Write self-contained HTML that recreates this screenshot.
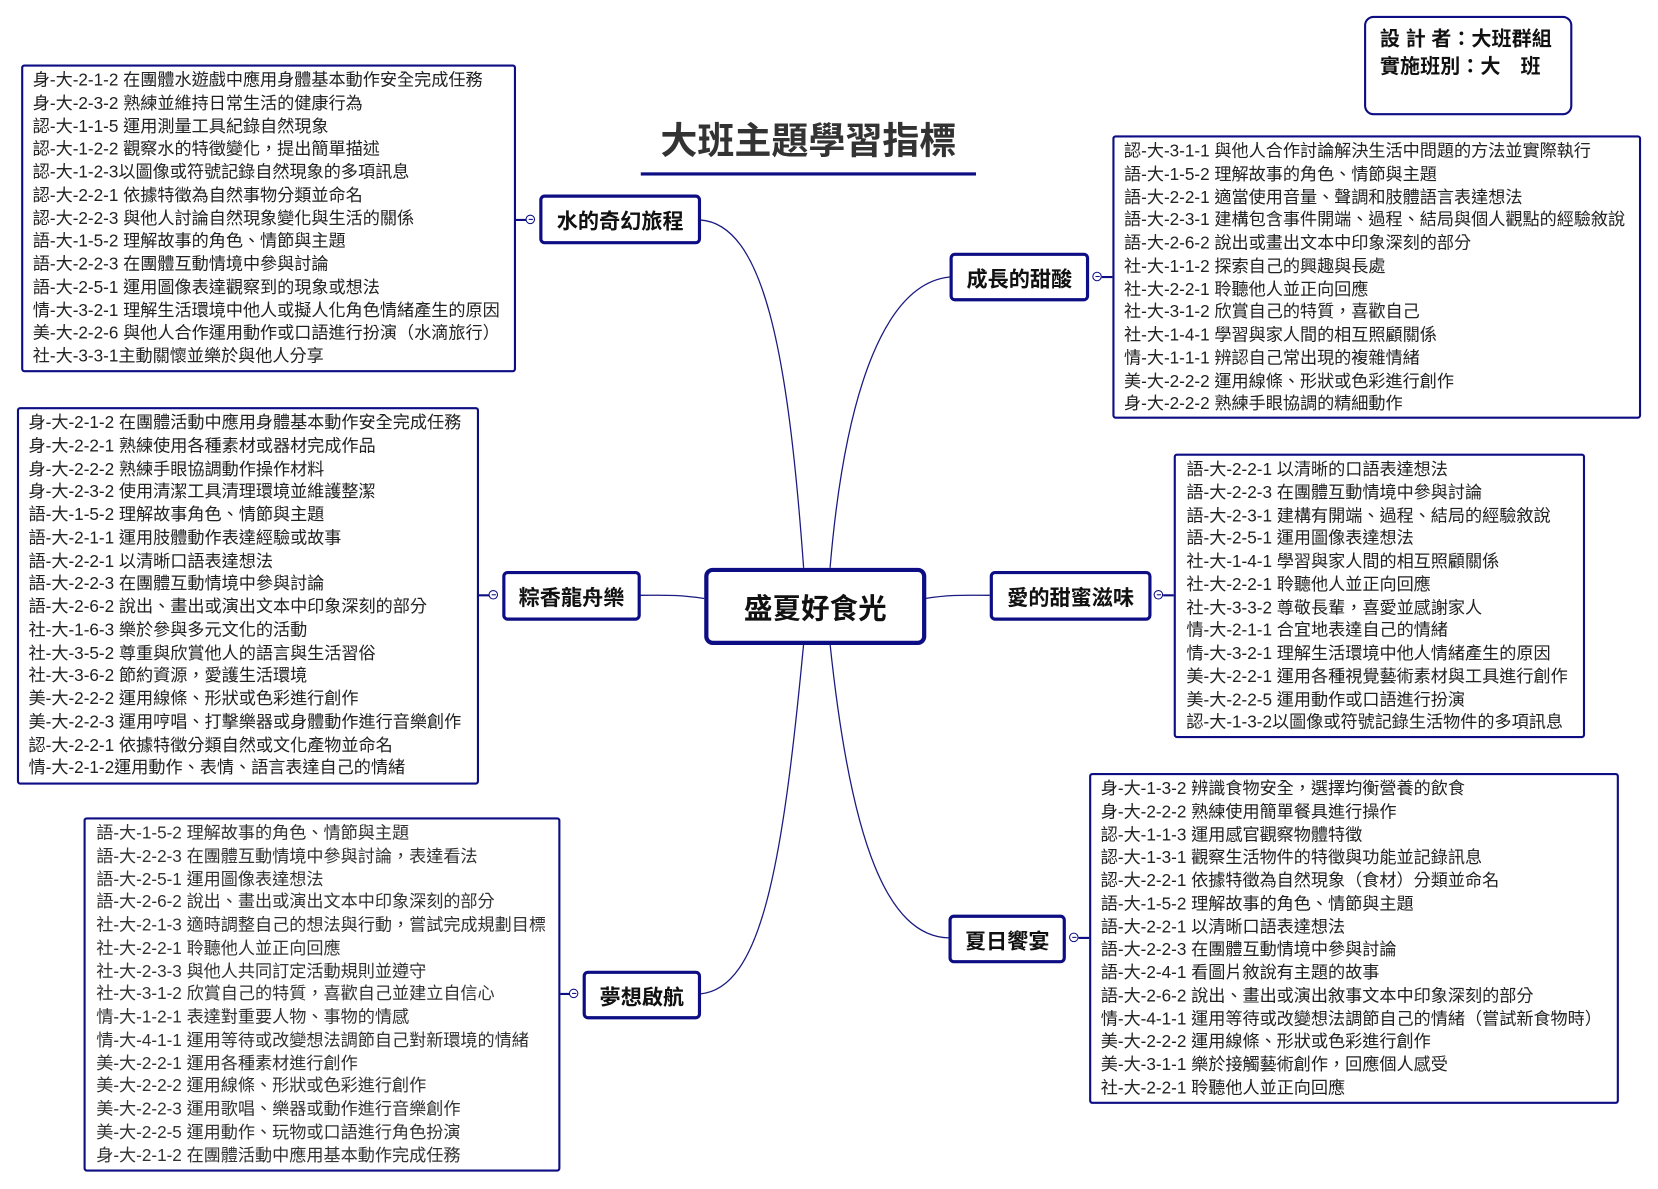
<!DOCTYPE html>
<html><head><meta charset="utf-8">
<style>
html,body{margin:0;padding:0;background:#fff;width:1658px;height:1188px;overflow:hidden}
#s{position:absolute;left:0;top:0;width:1568px;height:1124px;transform:scale(1.0574);transform-origin:0 0;font-family:"Liberation Sans","Noto Sans CJK TC",sans-serif}
.b{position:absolute;border:2.5px solid #0d0d84;border-radius:3px;box-sizing:border-box;background:#fff;color:#222;font-size:16.2px;line-height:21.75px;white-space:nowrap;padding-top:3px}
.b div{height:21.75px}
.n{position:absolute;border:3px solid #0d0d84;border-radius:5px;box-sizing:border-box;background:#fff;font-weight:bold;font-size:20px;display:flex;align-items:center;justify-content:center;color:#111}
.c{position:absolute;width:9px;height:9px;border:1.3px solid #0d0d84;border-radius:50%;background:#fff;box-sizing:border-box}
.c::after{content:"";position:absolute;left:1.5px;right:1.5px;top:3px;height:1px;background:#0d0d84}
.h{position:absolute;height:2px;background:#0d0d84}
</style></head><body><div id="s">
<svg width="1568" height="1124" style="position:absolute;left:0;top:0" fill="none" stroke="#1a1a80" stroke-width="1.2">
<path d="M760,537 C745,330 722,212 662,208"/>
<path d="M785,537 C800,360 840,268 898,262"/>
<path d="M666,566 C640,562 625,563 605,563"/>
<path d="M875,566 C900,562 915,563 936,563"/>
<path d="M760,609 C740,820 720,935 662,940"/>
<path d="M785,609 C805,800 840,885 897,887"/>
</svg>

<div style="position:absolute;left:586px;top:110px;width:357px;text-align:center;font-weight:bold;font-size:35px;color:#333;line-height:48px">大班主題學習指標</div>
<div class="h" style="left:606px;top:163px;width:317px;height:3px"></div>

<div class="n" style="left:1290px;top:15px;width:197px;height:94px;border-width:2.5px;border-radius:9px;display:block;font-size:19px;line-height:26px;padding:8px 0 0 13px;color:#111">設 計 者：大班群組<br>實施班別：大　班</div>

<div class="b" style="left:20px;top:61px;width:468px;height:291px;padding-left:9px">
<div>身-大-2-1-2 在團體水遊戲中應用身體基本動作安全完成任務</div>
<div>身-大-2-3-2 熟練並維持日常生活的健康行為</div>
<div>認-大-1-1-5 運用測量工具紀錄自然現象</div>
<div>認-大-1-2-2 觀察水的特徵變化，提出簡單描述</div>
<div>認-大-1-2-3以圖像或符號記錄自然現象的多項訊息</div>
<div>認-大-2-2-1 依據特徵為自然事物分類並命名</div>
<div>認-大-2-2-3 與他人討論自然現象變化與生活的關係</div>
<div>語-大-1-5-2 理解故事的角色、情節與主題</div>
<div>語-大-2-2-3 在團體互動情境中參與討論</div>
<div>語-大-2-5-1 運用圖像表達觀察到的現象或想法</div>
<div>情-大-3-2-1 理解生活環境中他人或擬人化角色情緒產生的原因</div>
<div>美-大-2-2-6 與他人合作運用動作或口語進行扮演（水滴旅行）</div>
<div>社-大-3-3-1主動關懷並樂於與他人分享</div>
</div>
<div class="h" style="left:488px;top:207px;width:10px;height:1.5px"></div>
<div class="c" style="left:497px;top:203px"></div>
<div class="n" style="left:510px;top:184px;width:153px;height:47px">水的奇幻旅程</div>

<div class="b" style="left:1052px;top:128px;width:500px;height:268px;padding-left:9px">
<div>認-大-3-1-1 與他人合作討論解決生活中問題的方法並實際執行</div>
<div>語-大-1-5-2 理解故事的角色、情節與主題</div>
<div>語-大-2-2-1 適當使用音量、聲調和肢體語言表達想法</div>
<div>語-大-2-3-1 建構包含事件開端、過程、結局與個人觀點的經驗敘說</div>
<div>語-大-2-6-2 說出或畫出文本中印象深刻的部分</div>
<div>社-大-1-1-2 探索自己的興趣與長處</div>
<div>社-大-2-2-1 聆聽他人並正向回應</div>
<div>社-大-3-1-2 欣賞自己的特質，喜歡自己</div>
<div>社-大-1-4-1 學習與家人間的相互照顧關係</div>
<div>情-大-1-1-1 辨認自己常出現的複雜情緒</div>
<div>美-大-2-2-2 運用線條、形狀或色彩進行創作</div>
<div>身-大-2-2-2 熟練手眼協調的精細動作</div>
</div>
<div class="h" style="left:1042px;top:261px;width:10px;height:1.5px"></div>
<div class="c" style="left:1033px;top:257px"></div>
<div class="n" style="left:898px;top:239px;width:132px;height:46px">成長的甜酸</div>

<div class="b" style="left:16px;top:385px;width:437px;height:357px;padding-left:9px">
<div>身-大-2-1-2 在團體活動中應用身體基本動作安全完成任務</div>
<div>身-大-2-2-1 熟練使用各種素材或器材完成作品</div>
<div>身-大-2-2-2 熟練手眼協調動作操作材料</div>
<div>身-大-2-3-2 使用清潔工具清理環境並維護整潔</div>
<div>語-大-1-5-2 理解故事角色、情節與主題</div>
<div>語-大-2-1-1 運用肢體動作表達經驗或故事</div>
<div>語-大-2-2-1 以清晰口語表達想法</div>
<div>語-大-2-2-3 在團體互動情境中參與討論</div>
<div>語-大-2-6-2 說出、畫出或演出文本中印象深刻的部分</div>
<div>社-大-1-6-3 樂於參與多元文化的活動</div>
<div>社-大-3-5-2 尊重與欣賞他人的語言與生活習俗</div>
<div>社-大-3-6-2 節約資源，愛護生活環境</div>
<div>美-大-2-2-2 運用線條、形狀或色彩進行創作</div>
<div>美-大-2-2-3 運用哼唱、打擊樂器或身體動作進行音樂創作</div>
<div>認-大-2-2-1 依據特徵分類自然或文化產物並命名</div>
<div>情-大-2-1-2運用動作、表情、語言表達自己的情緒</div>
</div>
<div class="h" style="left:453px;top:562px;width:10px;height:1.5px"></div>
<div class="c" style="left:462px;top:558px"></div>
<div class="n" style="left:475px;top:540px;width:131px;height:47px">粽香龍舟樂</div>

<div class="n" style="left:666px;top:537px;width:210px;height:73px;border-width:4px;border-radius:8px;font-size:27px">盛夏好食光</div>

<div class="n" style="left:936px;top:540px;width:153px;height:47px">愛的甜蜜滋味</div>
<div class="c" style="left:1091px;top:558px"></div>
<div class="h" style="left:1100px;top:562px;width:10px;height:1.5px"></div>
<div class="b" style="left:1110px;top:429px;width:389px;height:269px;padding-left:10px">
<div>語-大-2-2-1 以清晰的口語表達想法</div>
<div>語-大-2-2-3 在團體互動情境中參與討論</div>
<div>語-大-2-3-1 建構有開端、過程、結局的經驗敘說</div>
<div>語-大-2-5-1 運用圖像表達想法</div>
<div>社-大-1-4-1 學習與家人間的相互照顧關係</div>
<div>社-大-2-2-1 聆聽他人並正向回應</div>
<div>社-大-3-3-2 尊敬長輩，喜愛並感謝家人</div>
<div>情-大-2-1-1 合宜地表達自己的情緒</div>
<div>情-大-3-2-1 理解生活環境中他人情緒產生的原因</div>
<div>美-大-2-2-1 運用各種視覺藝術素材與工具進行創作</div>
<div>美-大-2-2-5 運用動作或口語進行扮演</div>
<div>認-大-1-3-2以圖像或符號記錄生活物件的多項訊息</div>
</div>

<div class="b" style="left:79px;top:773px;width:451px;height:335px;padding-left:10px;color:#333;font-size:16.2px">
<div>語-大-1-5-2 理解故事的角色、情節與主題</div>
<div>語-大-2-2-3 在團體互動情境中參與討論，表達看法</div>
<div>語-大-2-5-1 運用圖像表達想法</div>
<div>語-大-2-6-2 說出、畫出或演出文本中印象深刻的部分</div>
<div>社-大-2-1-3 適時調整自己的想法與行動，嘗試完成規劃目標</div>
<div>社-大-2-2-1 聆聽他人並正向回應</div>
<div>社-大-2-3-3 與他人共同訂定活動規則並遵守</div>
<div>社-大-3-1-2 欣賞自己的特質，喜歡自己並建立自信心</div>
<div>情-大-1-2-1 表達對重要人物、事物的情感</div>
<div>情-大-4-1-1 運用等待或改變想法調節自己對新環境的情緒</div>
<div>美-大-2-2-1 運用各種素材進行創作</div>
<div>美-大-2-2-2 運用線條、形狀或色彩進行創作</div>
<div>美-大-2-2-3 運用歌唱、樂器或動作進行音樂創作</div>
<div>美-大-2-2-5 運用動作、玩物或口語進行角色扮演</div>
<div>身-大-2-1-2 在團體活動中應用基本動作完成任務</div>
</div>
<div class="h" style="left:530px;top:939px;width:10px;height:1.5px"></div>
<div class="c" style="left:538px;top:935px"></div>
<div class="n" style="left:551px;top:918px;width:112px;height:46px">夢想啟航</div>

<div class="n" style="left:897px;top:865px;width:111px;height:46px">夏日饗宴</div>
<div class="c" style="left:1011px;top:882px"></div>
<div class="h" style="left:1020px;top:886px;width:10px;height:1.5px"></div>
<div class="b" style="left:1030px;top:731px;width:501px;height:313px;padding-left:9px">
<div>身-大-1-3-2 辨識食物安全，選擇均衡營養的飲食</div>
<div>身-大-2-2-2 熟練使用簡單餐具進行操作</div>
<div>認-大-1-1-3 運用感官觀察物體特徵</div>
<div>認-大-1-3-1 觀察生活物件的特徵與功能並記錄訊息</div>
<div>認-大-2-2-1 依據特徵為自然現象（食材）分類並命名</div>
<div>語-大-1-5-2 理解故事的角色、情節與主題</div>
<div>語-大-2-2-1 以清晰口語表達想法</div>
<div>語-大-2-2-3 在團體互動情境中參與討論</div>
<div>語-大-2-4-1 看圖片敘說有主題的故事</div>
<div>語-大-2-6-2 說出、畫出或演出敘事文本中印象深刻的部分</div>
<div>情-大-4-1-1 運用等待或改變想法調節自己的情緒（嘗試新食物時）</div>
<div>美-大-2-2-2 運用線條、形狀或色彩進行創作</div>
<div>美-大-3-1-1 樂於接觸藝術創作，回應個人感受</div>
<div>社-大-2-2-1 聆聽他人並正向回應</div>
</div>
</div></body></html>
